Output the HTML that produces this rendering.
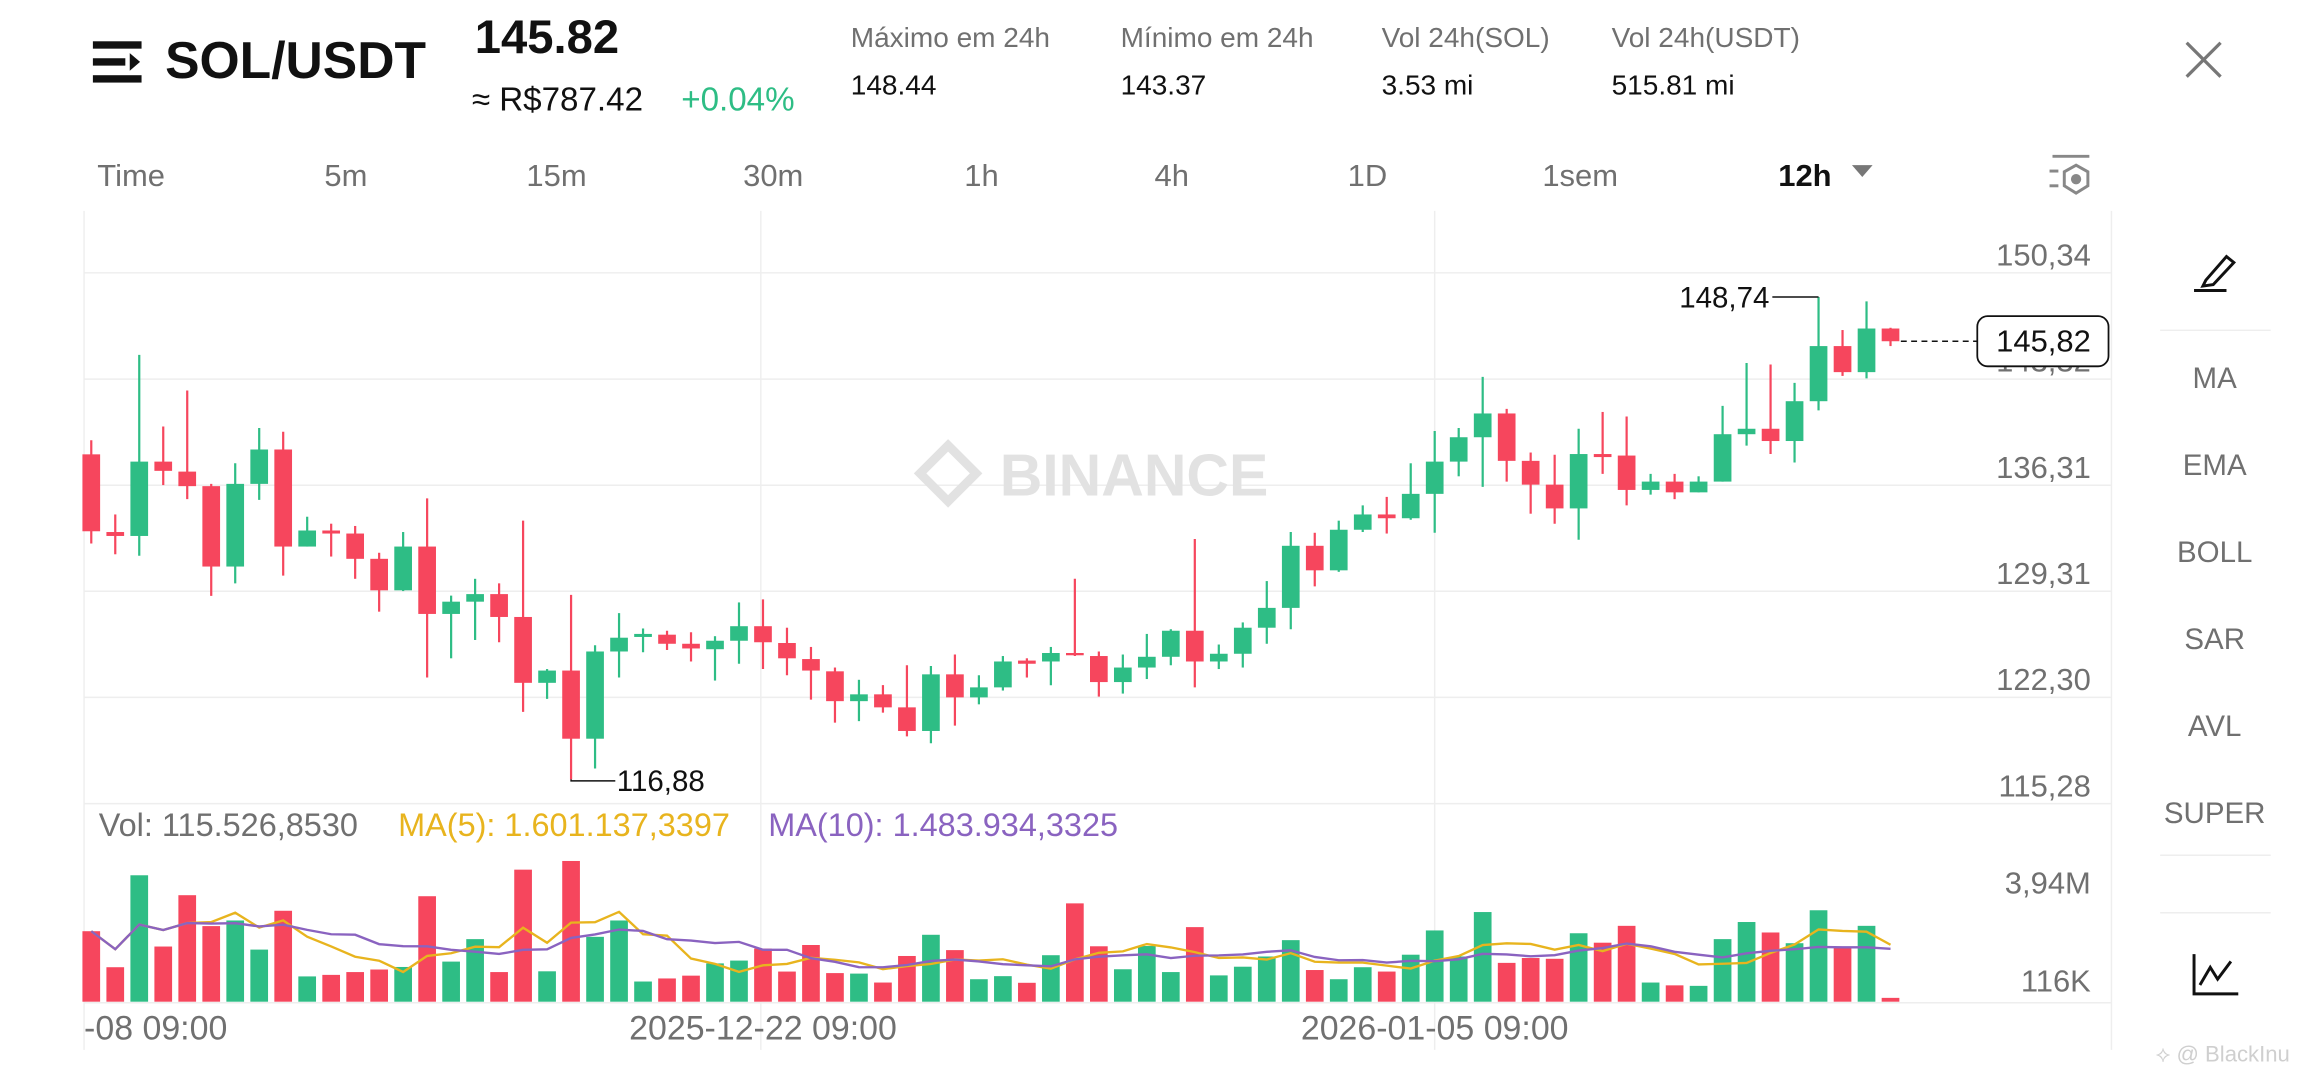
<!DOCTYPE html>
<html><head><meta charset="utf-8"><style>
html,body{margin:0;padding:0;background:#fff;width:2312px;height:1080px;overflow:hidden}
svg{display:block}
text{font-family:"Liberation Sans",sans-serif}
</style></head><body>
<svg id="chart" width="2312" height="1080" viewBox="0 0 1568 732.4" preserveAspectRatio="none" xmlns="http://www.w3.org/2000/svg">
<rect width="1568" height="732.4" fill="#fff"/>
<g>
<rect x="63" y="28" width="33" height="5" fill="#111"/><rect x="63" y="39.5" width="22" height="5" fill="#111"/><rect x="63" y="51" width="33" height="5" fill="#111"/><polygon points="88,36 95,42 88,48" fill="#111"/>
</g>
<text x="112" y="53" font-size="35" font-weight="bold" fill="#111">SOL/USDT</text>
<text x="322" y="36" font-size="32" font-weight="bold" fill="#111">145.82</text>
<text x="320" y="75" font-size="22.5" fill="#111">≈ R$787.42</text>
<text x="462" y="75" font-size="22.5" fill="#2ebd85">+0.04%</text>
<g font-size="19" fill="#707070">
<text x="577" y="32">Máximo em 24h</text><text x="760" y="32">Mínimo em 24h</text><text x="937" y="32">Vol 24h(SOL)</text><text x="1093" y="32">Vol 24h(USDT)</text>
</g>
<g font-size="19" fill="#111">
<text x="577" y="64">148.44</text><text x="760" y="64">143.37</text><text x="937" y="64">3.53 mi</text><text x="1093" y="64">515.81 mi</text>
</g>
<g stroke="#777" stroke-width="2.2"><line x1="1483" y1="29" x2="1506" y2="52"/><line x1="1506" y1="29" x2="1483" y2="52"/></g>
<g font-size="21" fill="#707070">
<text x="66" y="126">Time</text>
<text x="220" y="126">5m</text>
<text x="357" y="126">15m</text>
<text x="504" y="126">30m</text>
<text x="654" y="126">1h</text>
<text x="783" y="126">4h</text>
<text x="914" y="126">1D</text>
<text x="1046" y="126">1sem</text>
<text x="1206" y="126" fill="#111" font-weight="bold">12h</text>
</g>
<polygon points="1256,112 1270,112 1263,120" fill="#777"/>
<g stroke="#888" stroke-width="2" fill="none">
<line x1="1392" y1="106" x2="1417" y2="106"/><line x1="1390" y1="116" x2="1396" y2="116"/><line x1="1390" y1="126" x2="1396" y2="126"/>
<polygon points="1408,112 1416,116.5 1416,126 1408,131 1400,126 1400,116.5"/><circle cx="1408" cy="121.5" r="2.5" fill="#888"/>
</g>
<g id="grid" stroke="#eeeeee" stroke-width="1"></g>
<text x="678" y="336" font-size="40" font-weight="bold" fill="#e2e2e2">BINANCE</text>
<g fill="none" stroke="#e2e2e2" stroke-width="6"><polygon points="643,302 662,321 643,340 624,321"/></g>
<g id="candles"></g>
<g id="volume"></g>
<g id="labels"></g>
<g>
<g stroke="#111" stroke-width="2" fill="none"><polygon points="1496,190 1510,174 1515,178 1501,193 1494,194"/><line x1="1488" y1="197" x2="1510" y2="197"/></g>
<line x1="1465" y1="224" x2="1540" y2="224" stroke="#eee"/>
<g font-size="20" fill="#707070" text-anchor="middle">
<text x="1502" y="263">MA</text>
<text x="1502" y="322">EMA</text>
<text x="1502" y="381">BOLL</text>
<text x="1502" y="440">SAR</text>
<text x="1502" y="499">AVL</text>
<text x="1502" y="558">SUPER</text>
</g>
<line x1="1465" y1="580" x2="1540" y2="580" stroke="#eee"/><line x1="1465" y1="619" x2="1540" y2="619" stroke="#eee"/>
<g stroke="#111" stroke-width="2" fill="none"><polyline points="1488,647 1488,674 1518,674"/><polyline points="1492,668 1499,656 1504,664 1513,652"/></g>
</g>
<text x="1462" y="720" font-size="15" fill="#cfcfcf">⟡ @ BlackInu</text>
</svg>
<script>
const highs=[139.28,134.38,144.92,140.19,142.57,136.4,137.76,140.09,139.84,134.23,133.77,133.62,131.85,133.22,135.44,129.02,130.13,129.83,133.97,124.17,129.07,125.74,127.86,126.85,126.7,126.6,126.34,128.57,128.77,126.9,125.63,124.27,123.46,123.11,124.42,124.37,125.13,123.76,125.03,124.88,125.63,130.13,125.33,125.13,126.49,126.8,132.76,125.79,127.25,129.98,133.22,133.17,133.97,134.98,135.54,137.76,139.89,140.09,143.47,141.35,138.47,138.32,140.04,141.15,140.85,137.06,137.06,136.9,141.55,144.38,144.28,143.07,148.74,146.56,148.45,146.71];
const opens=[138.35,133.22,132.96,137.87,137.21,136.25,130.94,136.4,138.67,132.26,133.32,133.12,131.45,129.37,132.26,127.81,128.62,129.12,127.61,123.26,124.07,119.57,125.33,126.29,126.44,125.84,125.48,126.04,127.0,125.89,124.83,124.02,122.05,122.5,121.64,120.08,123.82,122.3,122.96,124.73,124.67,125.23,125.03,123.31,124.27,124.98,126.7,124.67,125.18,126.9,128.21,132.31,130.69,133.37,134.38,134.13,135.74,137.87,139.48,141.05,137.92,136.35,134.78,138.37,138.27,136.0,136.55,135.84,136.55,139.68,140.04,139.23,141.86,145.5,143.78,146.66];
const closes=[133.27,132.96,137.87,137.26,136.25,130.94,136.4,138.67,132.26,133.32,133.12,131.45,129.37,132.26,127.81,128.62,129.12,127.61,123.26,124.07,119.57,125.33,126.24,126.49,125.84,125.53,126.04,127.0,125.94,124.88,124.07,122.05,122.5,121.64,120.08,123.82,122.3,122.96,124.67,124.52,125.23,125.08,123.31,124.27,124.98,126.7,124.67,125.18,126.9,128.21,132.31,130.69,133.37,134.38,134.13,135.74,137.87,139.48,141.05,137.92,136.35,134.78,138.37,138.17,136.0,136.55,135.84,136.55,139.68,140.04,139.23,141.86,145.5,143.78,146.66,145.82];
const lows=[132.46,131.75,131.65,136.32,135.39,129.0,129.83,135.34,130.34,132.26,131.6,130.13,127.96,129.32,123.61,124.88,126.09,125.94,121.34,122.2,116.88,117.6,123.61,125.28,125.43,124.67,123.41,124.52,124.17,123.76,122.15,120.63,120.73,121.29,119.72,119.27,120.43,121.84,122.75,123.61,123.1,125.03,122.35,122.55,123.51,124.42,122.96,124.17,124.27,125.84,126.8,129.63,130.59,133.22,133.12,134.03,133.17,136.9,136.2,136.55,134.43,133.77,132.71,137.06,134.98,135.69,135.39,135.84,136.55,138.93,138.37,137.81,141.25,143.53,143.37,145.5];
const volumes=[2.76,1.35,4.95,2.16,4.17,2.96,3.18,2.04,3.56,0.99,1.05,1.16,1.26,1.36,4.13,1.57,2.45,1.16,5.17,1.19,5.51,2.54,3.18,0.79,0.91,1.02,1.50,1.61,2.08,1.18,2.22,1.12,1.10,0.75,1.79,2.62,2.02,0.88,1.00,0.74,1.82,3.85,2.17,1.27,2.18,1.16,2.92,1.03,1.37,1.77,2.41,1.24,0.88,1.35,1.18,1.84,2.79,1.77,3.51,1.52,1.71,1.68,2.68,2.31,2.97,0.75,0.64,0.62,2.45,3.12,2.71,2.29,3.58,2.16,2.97,0.15];
const priceTicks=[150.34,143.32,136.31,129.31,122.30,115.28];
const priceTickLabels=["150,34","143,32","136,31","129,31","122,30","115,28"];
const timeLabelIdx=[0,28,56];
const timeLabels=["-08 09:00","2025-12-22 09:00","2026-01-05 09:00"];
const lastPrice=145.82, lastPriceLabel="145,82";
const volTicks=[3.94,0.116];
const volTickLabels=["3,94M","116K"];

const NS='http://www.w3.org/2000/svg';
const PTOP=150.34, PBOT=115.28, YTOP=185, YBOT=545;
const yP=p=>YTOP+(PTOP-p)/(PTOP-PBOT)*(YBOT-YTOP);
const xI=i=>61.9+i*16.27;
const VBASE=679.3, VK=17.32;
const yV=v=>VBASE-v*VK;
const UP='#2ebd85', DN='#f6465d';
function mk(tag,attrs,parent){const e=document.createElementNS(NS,tag);for(const k in attrs)e.setAttribute(k,attrs[k]);parent.appendChild(e);return e;}

const grid=document.getElementById('grid');
priceTicks.forEach((p,i)=>{if(i===priceTicks.length-1)return;const l=mk('line',{x1:57,x2:1432,y1:yP(p),y2:yP(p)},grid);

});
[[57,143,57,712],[516,143,516,712],[973,143,973,712],[1432,143,1432,712]].forEach(c=>{const l=mk('line',{x1:c[0],y1:c[1],x2:c[2],y2:c[3]},grid);

});
[[57,545,1432,545],[57,680,1432,680]].forEach(c=>{const l=mk('line',{x1:c[0],y1:c[1],x2:c[2],y2:c[3]},grid);

});

const cg=document.getElementById('candles');
for(let i=0;i<opens.length;i++){
  const up=closes[i]>=opens[i], col=up?UP:DN, x=xI(i);
  const g=mk('g',{},cg);
  
  
  mk('line',{x1:x,x2:x,y1:yP(highs[i]),y2:yP(lows[i]),stroke:col,'stroke-width':1.5},g);
  const t=yP(Math.max(opens[i],closes[i])), b=yP(Math.min(opens[i],closes[i]));
  mk('rect',{x:x-6,y:t,width:12,height:Math.max(b-t,1.5),fill:col},g);
}
const vg=document.getElementById('volume');
for(let i=0;i<volumes.length;i++){
  const up=closes[i]>=opens[i];
  const r=mk('rect',{x:xI(i)-6,y:yV(volumes[i]),width:12,height:volumes[i]*VK,fill:up?UP:DN},vg);
  
  
}
function ma(n){return volumes.map((v,i)=>{const s=volumes.slice(Math.max(0,i-n+1),i+1);return s.reduce((a,b)=>a+b,0)/s.length;});}
[[5,'#e8b41e','ma5-line'],[10,'#8a63c0','ma10-line']].forEach(([n,c,name])=>{
  const pts=ma(n).map((v,i)=>xI(i)+','+yV(v)).join(' ');
  const pl=mk('polyline',{points:pts,fill:'none',stroke:c,'stroke-width':1.6},vg);
  
  
});

const lg=document.getElementById('labels');
priceTicks.forEach((p,i)=>{const t=mk('text',{x:1418,y:yP(p)-5,'text-anchor':'end','font-size':21,fill:'#707070'},lg);t.textContent=priceTickLabels[i];

});
volTicks.forEach((v,i)=>{const t=mk('text',{x:1418,y:yV(v)-5,'text-anchor':'end','font-size':21,fill:'#707070'},lg);t.textContent=volTickLabels[i];

});
timeLabelIdx.forEach((idx,i)=>{const t=mk('text',{x:i===0?57:xI(idx),y:705,'text-anchor':i===0?'start':'middle','font-size':23,fill:'#707070'},lg);t.textContent=timeLabels[i];

});
[['Vol: 115.526,8530','#707070',67],['MA(5): 1.601.137,3397','#e8b41e',270],['MA(10): 1.483.934,3325','#8a63c0',521]].forEach(([s,c,x])=>{
  const t=mk('text',{x:x,y:567,'font-size':22,fill:c},lg);t.textContent=s;
  
  });
let hi=0,lo=0;highs.forEach((h,i)=>{if(h>highs[hi])hi=i;});lows.forEach((l,i)=>{if(l<lows[lo])lo=i;});
mk('line',{x1:1202,x2:xI(hi),y1:yP(highs[hi]),y2:yP(highs[hi]),stroke:'#111','stroke-width':1},lg);
const ht=mk('text',{x:1200,y:yP(highs[hi])+7,'text-anchor':'end','font-size':20,fill:'#111'},lg);ht.textContent=highs[hi].toFixed(2).replace('.',',');


mk('polyline',{points:xI(lo)+','+yP(lows[lo])+' '+xI(lo)+','+(yP(lows[lo])+1)+' '+(xI(lo)+30)+','+(yP(lows[lo])+1),fill:'none',stroke:'#111','stroke-width':1},lg);
const lt=mk('text',{x:xI(lo)+31,y:yP(lows[lo])+8,'font-size':20,fill:'#111'},lg);lt.textContent=lows[lo].toFixed(2).replace('.',',');


const ly=yP(lastPrice);
mk('line',{x1:xI(opens.length-1)+7,x2:1341,y1:ly,y2:ly,stroke:'#111','stroke-width':1,'stroke-dasharray':'4,3'},lg);
const box=mk('rect',{x:1341,y:ly-17,width:89,height:34,rx:7,fill:'#fff',stroke:'#111','stroke-width':1.2},lg);


const lpt=mk('text',{x:1418,y:ly+7,'text-anchor':'end','font-size':21,fill:'#111'},lg);lpt.textContent=lastPriceLabel;


</script>
</body></html>
